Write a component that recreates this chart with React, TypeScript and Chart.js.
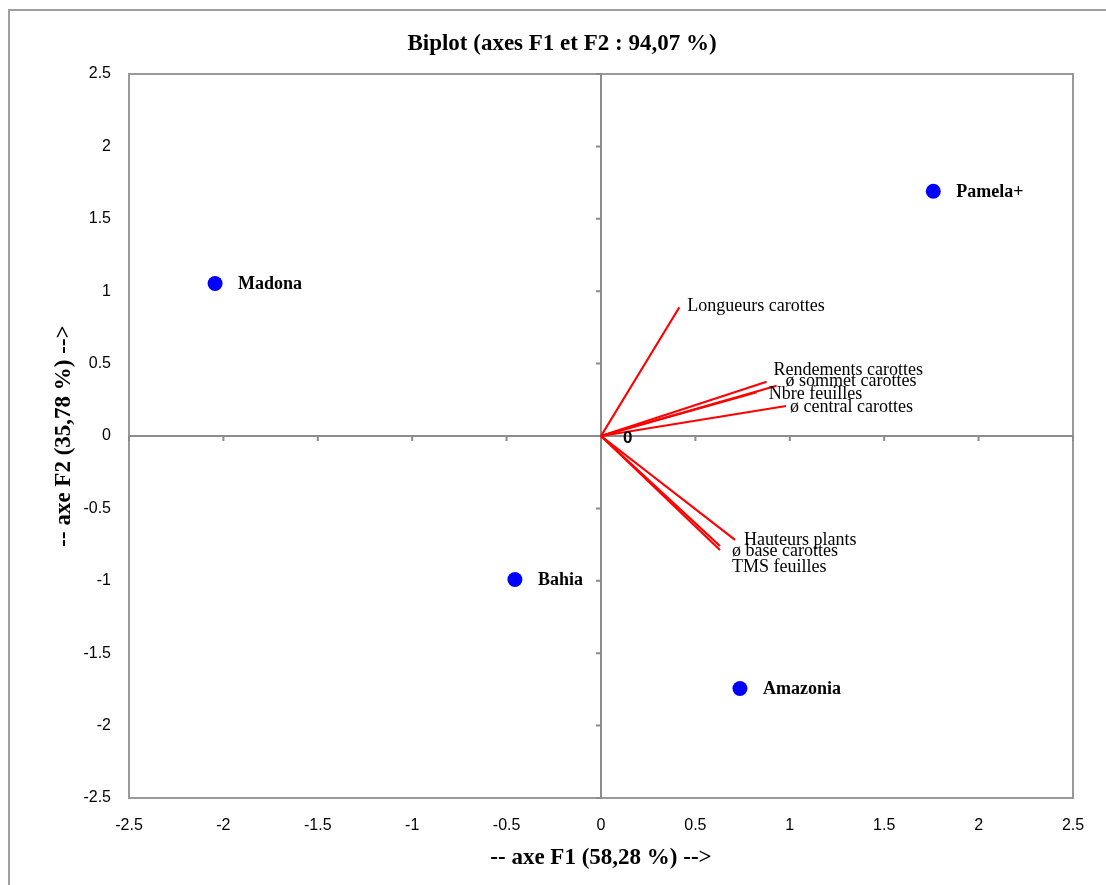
import React, { useEffect, useRef } from 'react';
import { Chart, registerables } from 'chart.js';

Chart.register(...registerables);

// ---- Data ----
const observationNames = ['Madona', 'Pamela+', 'Bahia', 'Amazonia'];
const observationF1 = [-2.044, 1.76, -0.456, 0.736];
const observationF2 = [1.053, 1.69, -0.991, -1.744];

const variableNames = [
  'Longueurs carottes',
  'Rendements carottes',
  'ø sommet carottes',
  'Nbre feuilles',
  'ø central carottes',
  'Hauteurs plants',
  'ø base carottes',
  'TMS feuilles',
];
const variableF1 = [0.415, 0.877, 0.93, 0.825, 0.98, 0.71, 0.63, 0.63];
const variableF2 = [0.889, 0.375, 0.347, 0.302, 0.207, -0.718, -0.76, -0.787];

const axisMin = -2.5;
const axisMax = 2.5;
const axisStep = 0.5;

const chartTitle = 'Biplot (axes F1 et F2 : 94,07 %)';
const xAxisTitle = '-- axe F1 (58,28 %) -->';
const yAxisTitle = '-- axe F2 (35,78 %) -->';
const originLabel = '0';

// label placement (pixel offsets from vector tips)
const variableLabelOffsets: [number, number][] = [
  [8, -1],
  [7, -11],
  [9, -4],
  [12, 2],
  [4, 1],
  [9, 0],
  [12, 5],
  [12, 17],
];

const SERIF = '"Liberation Serif", "Times New Roman", serif';
const SANS = '"Liberation Sans", Arial, sans-serif';

const biplotPlugin = {
  id: 'biplotDecor',
  beforeDraw(chart: any) {
    const { ctx, chartArea: a, scales } = chart;
    const xs = scales.x;
    const ys = scales.y;
    ctx.save();
    ctx.fillStyle = '#ffffff';
    ctx.fillRect(0, 0, chart.width, chart.height);
    // outer frame
    ctx.strokeStyle = '#a0a0a0';
    ctx.lineWidth = 2;
    ctx.strokeRect(9, 10, 1300, 1100);
    // plot border
    ctx.strokeStyle = '#999999';
    ctx.lineWidth = 2;
    ctx.strokeRect(a.left, a.top, a.right - a.left, a.bottom - a.top);
    // zero axes
    const x0 = xs.getPixelForValue(0);
    const y0 = ys.getPixelForValue(0);
    ctx.strokeStyle = '#8c8c8c';
    ctx.lineWidth = 2;
    ctx.beginPath();
    ctx.moveTo(a.left, y0);
    ctx.lineTo(a.right, y0);
    ctx.moveTo(x0, a.top);
    ctx.lineTo(x0, a.bottom);
    xs.ticks.forEach((t: any) => {
      const px = xs.getPixelForValue(t.value);
      ctx.moveTo(px, y0);
      ctx.lineTo(px, y0 + 5);
    });
    ys.ticks.forEach((t: any) => {
      const py = ys.getPixelForValue(t.value);
      ctx.moveTo(x0 - 5, py);
      ctx.lineTo(x0, py);
    });
    ctx.stroke();
    // chart title
    ctx.fillStyle = '#000000';
    ctx.font = `bold 23px ${SERIF}`;
    ctx.textAlign = 'center';
    ctx.textBaseline = 'middle';
    ctx.fillText(chartTitle, 562, 44);
    ctx.restore();
  },
  afterDatasetsDraw(chart: any) {
    const { ctx, scales } = chart;
    ctx.save();
    ctx.fillStyle = '#000000';
    ctx.textAlign = 'left';
    ctx.textBaseline = 'middle';
    // observation labels
    const obsMeta = chart.getDatasetMeta(0);
    ctx.font = `bold 18px ${SERIF}`;
    obsMeta.data.forEach((pt: any, i: number) => {
      ctx.fillText(observationNames[i], pt.x + 23, pt.y + 1);
    });
    // variable labels
    ctx.font = `18px ${SERIF}`;
    variableNames.forEach((name, i) => {
      const meta = chart.getDatasetMeta(i + 1);
      const tip = meta.data[1];
      const [dx, dy] = variableLabelOffsets[i];
      ctx.fillText(name, tip.x + dx, tip.y + dy);
    });
    // origin label
    ctx.font = `bold 17px ${SANS}`;
    ctx.fillText(originLabel, scales.x.getPixelForValue(0) + 22, scales.y.getPixelForValue(0) + 2);
    ctx.restore();
  },
};

export default function App() {
  const ref = useRef<HTMLCanvasElement>(null);
  useEffect(() => {
    if (!ref.current) return;
    const datasets: any[] = [
      {
        label: 'Observations',
        data: observationNames.map((_, i) => ({ x: observationF1[i], y: observationF2[i] })),
        pointRadius: 7.5,
        pointHoverRadius: 7.5,
        backgroundColor: '#0000ff',
        borderWidth: 0,
        showLine: false,
      },
      ...variableNames.map((name, i) => ({
        label: name,
        data: [
          { x: 0, y: 0 },
          { x: variableF1[i], y: variableF2[i] },
        ],
        showLine: true,
        borderColor: '#ff0000',
        borderWidth: 2.2,
        pointRadius: 0,
        pointHoverRadius: 0,
        fill: false,
      })),
    ];
    const tickFont = { family: SANS, size: 16 };
    const chart = new Chart(ref.current, {
      type: 'scatter',
      data: { datasets },
      options: {
        animation: false,
        responsive: false,
        maintainAspectRatio: false,
        events: [],
        layout: { padding: { left: 0, top: 74, right: 33, bottom: 0 } },
        plugins: {
          legend: { display: false },
          tooltip: { enabled: false },
          title: { display: false },
        },
        scales: {
          x: {
            type: 'linear',
            min: axisMin,
            max: axisMax,
            grid: { display: false },
            border: { display: false },
            ticks: {
              stepSize: axisStep,
              padding: 10,
              color: '#000000',
              font: tickFont,
              callback: (v: any) => String(v),
            },
            title: {
              display: true,
              text: xAxisTitle,
              color: '#000000',
              font: { family: SERIF, size: 23, weight: 'bold' },
              padding: { top: 0, bottom: 13 },
            },
            afterFit: (s: any) => {
              s.height = 87;
            },
          },
          y: {
            type: 'linear',
            min: axisMin,
            max: axisMax,
            grid: { display: false },
            border: { display: false },
            ticks: {
              stepSize: axisStep,
              padding: 10,
              color: '#000000',
              font: tickFont,
              callback: (v: any) => String(v),
            },
            title: {
              display: true,
              text: yAxisTitle,
              color: '#000000',
              font: { family: SERIF, size: 23, weight: 'bold' },
              padding: { top: 50, bottom: 0 },
            },
            afterFit: (s: any) => {
              s.width = 129;
            },
          },
        },
      } as any,
      plugins: [biplotPlugin],
    });
    return () => chart.destroy();
  }, []);
  return (
    <div
      style={{
        position: 'fixed',
        left: 0,
        top: 0,
        width: 1106,
        height: 885,
        overflow: 'hidden',
        background: '#ffffff',
      }}
    >
      <canvas ref={ref} width={1106} height={885} style={{ display: 'block', width: 1106, height: 885 }} />
    </div>
  );
}
